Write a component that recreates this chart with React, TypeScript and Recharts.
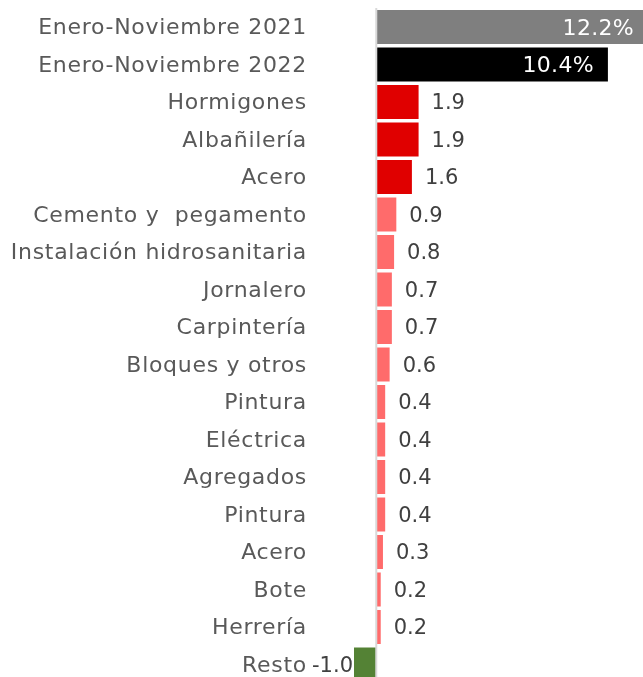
import { BarChart, Bar, XAxis, YAxis, Cell, ReferenceLine, LabelList } from 'recharts';

const categories = [
  'Enero-Noviembre 2021',
  'Enero-Noviembre 2022',
  'Hormigones',
  'Albañilería',
  'Acero',
  'Cemento y  pegamento',
  'Instalación hidrosanitaria',
  'Jornalero',
  'Carpintería',
  'Bloques y otros',
  'Pintura',
  'Eléctrica',
  'Agregados',
  'Pintura',
  'Acero',
  'Bote',
  'Herrería',
  'Resto',
];

const values = [12.2, 10.4, 1.9, 1.9, 1.6, 0.9, 0.8, 0.7, 0.7, 0.6, 0.4, 0.4, 0.4, 0.4, 0.3, 0.2, 0.2, -1.0];

const colors = [
  '#7f7f7f', '#000000', '#e00000', '#e00000', '#e00000',
  '#ff6b6b', '#ff6b6b', '#ff6b6b', '#ff6b6b', '#ff6b6b', '#ff6b6b',
  '#ff6b6b', '#ff6b6b', '#ff6b6b', '#ff6b6b', '#ff6b6b', '#ff6b6b', '#548235',
];

const data = categories.map((name, i) => ({ id: i, name, value: values[i], color: colors[i] }));

const FONT = '"DejaVu Sans", sans-serif';

const CategoryTick = ({ y, payload }: any) => (
  <text
    x={299}
    y={y}
    textAnchor="end"
    dominantBaseline="central"
    fill="#595959"
    fontSize={22}
    letterSpacing={0.7}
    fontFamily={FONT}
    style={{ whiteSpace: 'pre' }}
  >
    {categories[payload.value]}
  </text>
);

const ValueLabel = ({ x, y, width, height, index }: any) => {
  const v = values[index];
  const left = Math.min(x, x + width);
  const right = Math.max(x, x + width);
  const cy = y + height / 2;
  if (index < 2) {
    return (
      <text x={right - 14} y={cy} textAnchor="end" dominantBaseline="central" fill="#ffffff" fontSize={22} letterSpacing={0.3} fontFamily={FONT}>
        {v.toFixed(1)}%
      </text>
    );
  }
  if (v < 0) {
    return (
      <text x={left - 1} y={cy} textAnchor="end" dominantBaseline="central" fill="#404040" fontSize={21} fontFamily={FONT}>
        {v.toFixed(1)}
      </text>
    );
  }
  return (
    <text x={right + 13} y={cy} textAnchor="start" dominantBaseline="central" fill="#404040" fontSize={21} fontFamily={FONT}>
      {v.toFixed(1)}
    </text>
  );
};

export default function App() {
  return (
    <div style={{ position: 'fixed', left: 8, top: 8, width: 635, height: 669, overflow: 'hidden' }}>
      <BarChart
        width={640}
        height={675}
        data={data}
        layout="vertical"
        margin={{ top: 0, right: 0, left: 0, bottom: 0 }}
        style={{ overflow: 'visible' }}
      >
        <XAxis type="number" domain={[-1, 12.2]} hide />
        <YAxis
          type="category"
          dataKey="id"
          width={346}
          axisLine={false}
          tickLine={false}
          interval={0}
          tick={<CategoryTick />}
        />
        <Bar dataKey="value" barSize={34} isAnimationActive={false}>
          {data.map((d, i) => (
            <Cell key={`cell-${i}`} fill={d.color} />
          ))}
          <LabelList dataKey="value" content={<ValueLabel />} />
        </Bar>
        <ReferenceLine x={0} stroke="#d9d9d9" strokeWidth={2} />
      </BarChart>
    </div>
  );
}
